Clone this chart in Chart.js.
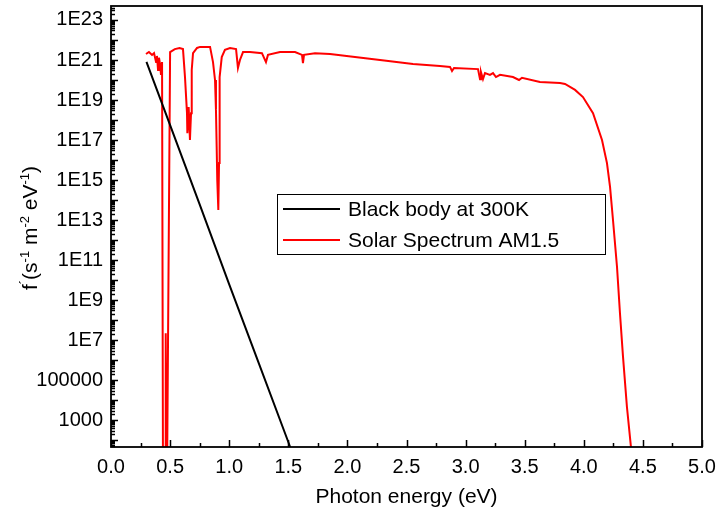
<!DOCTYPE html>
<html>
<head>
<meta charset="utf-8">
<script src="https://cdn.jsdelivr.net/npm/chart.js@4"></script>
<style>
  body { margin: 0; background: #fff; }
  canvas { display: block; }
</style>
</head>
<body>
<canvas id="chart" width="719" height="523"></canvas>
<script>
// Black body photon flux at 300K (eV, s^-1 m^-2 eV^-1)
const blackEnergy = [0.30, 0.50, 0.75, 1.00, 1.25, 1.50, 1.55];
const blackFlux = [8e20, 5.5e17, 6e13, 6e9, 7e5, 80, 12];

// AM1.5 solar spectrum photon flux
const solarEnergy = [
  0.296, 0.321, 0.347, 0.364, 0.381, 0.389, 0.398, 0.406, 0.415, 0.423, 0.432,
  0.440, 0.460, 0.463, 0.468, 0.474, 0.500,
  0.540, 0.580, 0.609, 0.626, 0.643, 0.646, 0.657, 0.668, 0.677, 0.683, 0.694, 0.728,
  0.753, 0.838, 0.863, 0.880, 0.888, 0.894, 0.899, 0.908, 0.914, 0.916, 0.922, 0.937, 0.964,
  1.007, 1.058, 1.074, 1.091, 1.117, 1.176, 1.277, 1.311, 1.328, 1.430, 1.557, 1.616, 1.624, 1.633,
  1.726, 1.853, 2.064, 2.276, 2.555, 2.783, 2.868, 2.885, 2.902, 3.105, 3.122, 3.130, 3.147,
  3.164, 3.206, 3.232, 3.257, 3.291, 3.401, 3.452, 3.477, 3.629, 3.799, 3.841, 3.926, 3.993,
  4.078, 4.154, 4.196, 4.222, 4.247, 4.281, 4.306, 4.332, 4.365, 4.399, 4.420
];
const solarFlux = [
  2.0e21, 2.5e21, 1.8e21, 2.2e21, 7.9e20, 1.6e21, 3.2e20, 1.3e21, 6.3e20, 1.8e20, 7.9e20,
  1, 1, 2.2e7, 1, 1, 2.5e21,
  3.5e21, 4.0e21, 3.5e21, 1.4e20, 2.2e18, 2.2e17, 4.5e18, 1e17, 2.2e18, 3.2e20, 2.2e21, 4.0e21,
  4.5e21, 4.5e21, 7.9e20, 1e20, 3.2e18, 4.5e16, 1e15, 3.2e13, 7e15, 2.2e18, 1.4e20, 1.4e21, 3.2e21,
  4.0e21, 3.5e21, 4.0e20, 1e21, 2.5e21, 2.5e21, 2.2e21, 7.9e20, 1.8e21, 2.5e21, 2.5e21, 1.8e21, 7e20, 1.8e21,
  2.2e21, 2.0e21, 1.4e21, 1e21, 6.3e20, 5e20, 4.5e20, 2.8e20, 4.0e20, 3.5e20, 1.1e20, 2.5e20, 1.1e20,
  2.2e20, 1.8e20, 2.2e20, 1.4e20, 1.8e20, 1.4e20, 1e20, 1.3e20, 7.9e19, 7e19, 6.3e19, 3.2e19, 1.4e19,
  2.2e18, 1e17, 7e15, 4.5e14, 1e13, 4.5e10, 2.2e8, 1.4e6, 4.5e3, 45, 0.5
];

// Axis ranges and tick labels
const xTickLabels = ['0.0', '0.5', '1.0', '1.5', '2.0', '2.5', '3.0', '3.5', '4.0', '4.5', '5.0'];
const yLabelExps = [3, 5, 7, 9, 11, 13, 15, 17, 19, 21, 23];
const yMin = 45;
const yMax = 5e23;

const legendLabels = ['Black body at 300K', 'Solar Spectrum AM1.5'];

const FONT = "'Liberation Sans', Arial, sans-serif";

function toPoints(xs, ys) {
  return xs.map((x, i) => ({ x: x, y: ys[i] }));
}

function decadeOf(v) {
  const e = Math.round(Math.log10(v));
  return Math.abs(Math.log10(v) - e) < 1e-6 ? e : null;
}

function yLabel(v) {
  const e = decadeOf(v);
  if (e === null || !yLabelExps.includes(e)) return '';
  return e >= 7 ? '1E' + e : String(Math.pow(10, e));
}

// frame, inward ticks, axis titles and the boxed legend
const decorations = {
  id: 'decorations',
  afterDraw(chart) {
    const ctx = chart.ctx;
    const a = chart.chartArea;
    const xs = chart.scales.x;
    const ys = chart.scales.y;
    ctx.save();
    ctx.strokeStyle = '#000';

    // inward tick marks
    ctx.lineWidth = 1.5;
    ctx.beginPath();
    for (let v = 0; v <= 5.0001; v += 0.25) {
      const px = Math.round(xs.getPixelForValue(v)) + 0.5;
      const major = Math.abs(v * 2 - Math.round(v * 2)) < 1e-6;
      const len = major ? 7 : 4;
      ctx.moveTo(px, a.bottom);
      ctx.lineTo(px, a.bottom - len);
    }
    ys.ticks.forEach(t => {
      if (t.value < yMin || t.value > yMax) return;
      const py = Math.round(ys.getPixelForValue(t.value)) + 0.5;
      const len = decadeOf(t.value) !== null ? 7 : 4;
      ctx.moveTo(a.left, py);
      ctx.lineTo(a.left + len, py);
    });
    ctx.stroke();

    // frame
    ctx.lineWidth = 1.8;
    ctx.strokeRect(a.left, a.top, a.right - a.left, a.bottom - a.top);

    // x title
    ctx.fillStyle = '#000';
    ctx.font = '21px ' + FONT;
    ctx.textAlign = 'center';
    ctx.textBaseline = 'middle';
    ctx.fillText('Photon energy (eV)', (a.left + a.right) / 2, 497);

    // y title with superscripts
    const parts = [
      ['f', false], ['\u00b4', true], ['(s', false], ['-1', true], [' m', false],
      ['-2', true], [' eV', false], ['-1', true], [')', false]
    ];
    const mainFont = '21px ' + FONT;
    const supFont = '13px ' + FONT;
    let total = 0;
    parts.forEach(p => {
      ctx.font = p[1] ? supFont : mainFont;
      total += ctx.measureText(p[0]).width;
    });
    ctx.translate(30, 228);
    ctx.rotate(-Math.PI / 2);
    ctx.textAlign = 'left';
    ctx.textBaseline = 'alphabetic';
    let cx = -total / 2;
    parts.forEach(p => {
      ctx.font = p[1] ? supFont : mainFont;
      ctx.fillText(p[0], cx, p[1] ? -1 : 7);
      cx += ctx.measureText(p[0]).width;
    });
    ctx.setTransform(1, 0, 0, 1, 0, 0);

    // legend box
    ctx.lineWidth = 1;
    ctx.strokeRect(277.5, 194.5, 328, 60);
    chart.data.datasets.forEach((ds, i) => {
      const y = 209 + i * 31;
      ctx.strokeStyle = ds.borderColor;
      ctx.lineWidth = 2;
      ctx.beginPath();
      ctx.moveTo(283, y);
      ctx.lineTo(340, y);
      ctx.stroke();
      ctx.fillStyle = '#000';
      ctx.font = '21px ' + FONT;
      ctx.textAlign = 'left';
      ctx.textBaseline = 'middle';
      ctx.fillText(ds.label, 348, y + 1);
    });
    ctx.restore();
  }
};

// drop the label overhang padding so the plot box sits where the layout puts it
function noOverhang(s) {
  s.paddingLeft = 0;
  s.paddingRight = 0;
  s.paddingTop = 0;
  s.paddingBottom = 0;
}

Chart.defaults.font.family = FONT;
Chart.defaults.color = '#000';

new Chart(document.getElementById('chart'), {
  type: 'line',
  data: {
    datasets: [
      {
        label: legendLabels[0],
        data: toPoints(blackEnergy, blackFlux),
        borderColor: '#000000',
        borderWidth: 2,
        pointRadius: 0,
        tension: 0
      },
      {
        label: legendLabels[1],
        data: toPoints(solarEnergy, solarFlux),
        borderColor: '#ff0000',
        borderWidth: 2,
        pointRadius: 0,
        tension: 0
      }
    ]
  },
  options: {
    responsive: false,
    animation: false,
    devicePixelRatio: 1,
    layout: { padding: { left: 0, top: 6, right: 17, bottom: 0 } },
    plugins: {
      legend: { display: false },
      tooltip: { enabled: false }
    },
    scales: {
      x: {
        type: 'linear',
        min: 0,
        max: 5,
        grid: { display: false, drawTicks: false },
        border: { display: false },
        ticks: {
          stepSize: 0.5,
          padding: 8,
          font: { size: 20 },
          callback: (v, i) => xTickLabels[i]
        },
        afterFit: s => { s.height = 76; noOverhang(s); }
      },
      y: {
        type: 'logarithmic',
        min: yMin,
        max: yMax,
        grid: { display: false, drawTicks: false },
        border: { display: false },
        afterBuildTicks: s => {
          const ticks = [];
          for (let e = 1; e <= 23; e++) {
            for (let m = 1; m <= 9; m++) {
              const v = m * Math.pow(10, e);
              if (v >= yMin && v <= yMax) ticks.push({ value: v });
            }
          }
          s.ticks = ticks;
        },
        ticks: {
          autoSkip: false,
          padding: 8,
          font: { size: 20 },
          callback: v => yLabel(v)
        },
        afterFit: s => { s.width = 111; noOverhang(s); }
      }
    }
  },
  plugins: [decorations]
});
</script>
</body>
</html>
